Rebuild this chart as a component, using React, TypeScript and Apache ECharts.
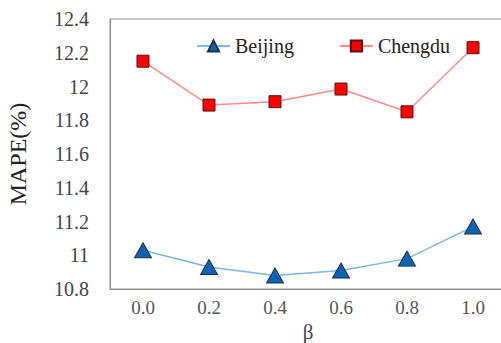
import React, { useEffect, useRef } from "react";
import * as echarts from "echarts";

const categories = ["0.0", "0.2", "0.4", "0.6", "0.8", "1.0"];
const beijing = [11.03, 10.93, 10.88, 10.91, 10.98, 11.17];
const chengdu = [12.15, 11.89, 11.91, 11.985, 11.85, 12.23];
const yMin = 10.8;
const yMax = 12.4;
const yStep = 0.2;

const FONT = "Liberation Serif";
const LABEL_FONT = "Times New Roman, Liberation Serif, DejaVu Serif, serif";

export default function App() {
  const ref = useRef<HTMLDivElement>(null);
  useEffect(() => {
    if (!ref.current) return;
    const chart = echarts.init(ref.current, undefined, { renderer: "svg" });
    chart.setOption({
      animation: false,
      backgroundColor: "#ffffff",
      textStyle: { fontFamily: FONT },
      grid: {
        left: 110,
        top: 19,
        width: 396,
        height: 270,
        outerBoundsMode: "none",
        containLabel: false,
        show: true,
        borderColor: "#8c8c8c",
        borderWidth: 1,
        backgroundColor: "transparent",
      },
      legend: {
        top: 31,
        left: 191,
        itemGap: 45,
        itemWidth: 33,
        itemHeight: 14,
        textStyle: { fontFamily: LABEL_FONT, fontSize: 20, color: "#222" },
        data: ["Beijing", "Chengdu"],
      },
      xAxis: {
        type: "category",
        data: categories,
        boundaryGap: true,
        name: "β",
        nameLocation: "middle",
        nameGap: 29,
        nameTextStyle: { fontFamily: FONT, fontSize: 21, color: "#444" },
        axisLine: { lineStyle: { color: "#8c8c8c" } },
        axisTick: { show: false },
        axisLabel: { fontFamily: LABEL_FONT, fontSize: 19, color: "#555", margin: 9, interval: 0 },
        splitLine: { show: false },
      },
      yAxis: {
        type: "value",
        min: yMin,
        max: yMax,
        interval: yStep,
        name: "MAPE(%)",
        nameLocation: "middle",
        nameGap: 80,
        nameTextStyle: { fontFamily: FONT, fontSize: 24, color: "#222" },
        axisLine: { show: true, lineStyle: { color: "#8c8c8c" } },
        axisTick: { show: false },
        splitLine: { show: false },
        axisLabel: {
          fontFamily: LABEL_FONT,
          fontSize: 20,
          color: "#444",
          margin: 21,
          formatter: (v: number) => String(parseFloat(v.toFixed(1))),
        },
      },
      series: [
        {
          name: "Beijing",
          type: "line",
          data: beijing,
          symbol: "triangle",
          symbolSize: [17, 15],
          lineStyle: { color: "#7bb6e6", width: 1.5 },
          itemStyle: { color: "#0d63b3", borderColor: "#1d2f45", borderWidth: 1 },
        },
        {
          name: "Chengdu",
          type: "line",
          data: chengdu,
          symbol: "rect",
          symbolSize: 12,
          lineStyle: { color: "#ff8a8a", width: 1.5 },
          itemStyle: { color: "#ff0000", borderColor: "#5a1010", borderWidth: 1 },
        },
      ],
    });
    return () => chart.dispose();
  }, []);
  return <div ref={ref} style={{ width: 501, height: 343, position: "absolute", left: 0, top: 0 }} />;
}
